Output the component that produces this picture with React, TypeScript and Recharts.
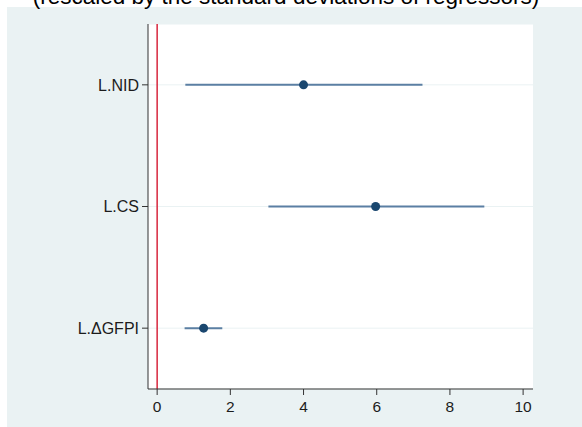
import React from 'react';
import { ComposedChart, Scatter, ErrorBar, XAxis, YAxis, CartesianGrid, ReferenceLine } from 'recharts';

const labels = ['L.NID', 'L.CS', 'L.ΔGFPI'];
const positions = [3, 2, 1];
const estimates = [4.0, 5.97, 1.27];
const lower = [0.77, 3.04, 0.75];
const upper = [7.25, 8.94, 1.78];
const xTicks = [0, 2, 4, 6, 8, 10];

const data = labels.map((name, i) => ({
  name,
  y: positions[i],
  x: estimates[i],
  err: [estimates[i] - lower[i], upper[i] - estimates[i]],
}));

const FONT = '"Liberation Sans", Arial, sans-serif';

const Dot = (props: any) => <circle cx={props.cx} cy={props.cy} r={4.5} fill="#1a476f" />;

const App: React.FC = () => {
  return (
    <div style={{ position: 'fixed', left: 0, top: 0, width: 582, height: 427, background: '#fff' }}>
      <div style={{ position: 'absolute', left: 7, top: 7, width: 575, height: 420, background: '#eaf2f3' }} />
      <svg width={582} height={20} style={{ position: 'absolute', left: 0, top: 0 }}>
        <text x={286} y={4} textAnchor="middle" fontFamily={FONT} fontSize={22.5} fill="#000">
          (rescaled by the standard deviations of regressors)
        </text>
      </svg>
      <div style={{ position: 'absolute', left: 0, top: 0 }}>
        <ComposedChart width={582} height={427} data={data} margin={{ top: 24, right: 49, bottom: 0, left: 0 }}>
          <CartesianGrid vertical={false} stroke="#eaf2f3" fill="#fff" />
          <XAxis
            type="number"
            dataKey="x"
            domain={[-0.25, 10.27]}
            ticks={xTicks}
            allowDataOverflow
            height={38}
            tickSize={6}
            tickMargin={6}
            stroke="#333"
            tick={{ fill: '#1c1c1c', fontSize: 15.5, fontFamily: FONT }}
          />
          <YAxis
            type="number"
            dataKey="y"
            domain={[0.5, 3.5]}
            ticks={positions}
            tickFormatter={(v: number) => labels[positions.indexOf(v)]}
            width={148}
            tickSize={6}
            tickMargin={3}
            stroke="#333"
            tick={{ fill: '#1c1c1c', fontSize: 16, fontFamily: FONT }}
          />
          <ReferenceLine x={0} stroke="#d7263d" strokeWidth={1.5} />
          <Scatter dataKey="x" shape={<Dot />} isAnimationActive={false}>
            <ErrorBar dataKey="err" direction="x" width={0} stroke="#5b7fa3" strokeWidth={2} />
          </Scatter>
        </ComposedChart>
      </div>
    </div>
  );
};

export default App;
